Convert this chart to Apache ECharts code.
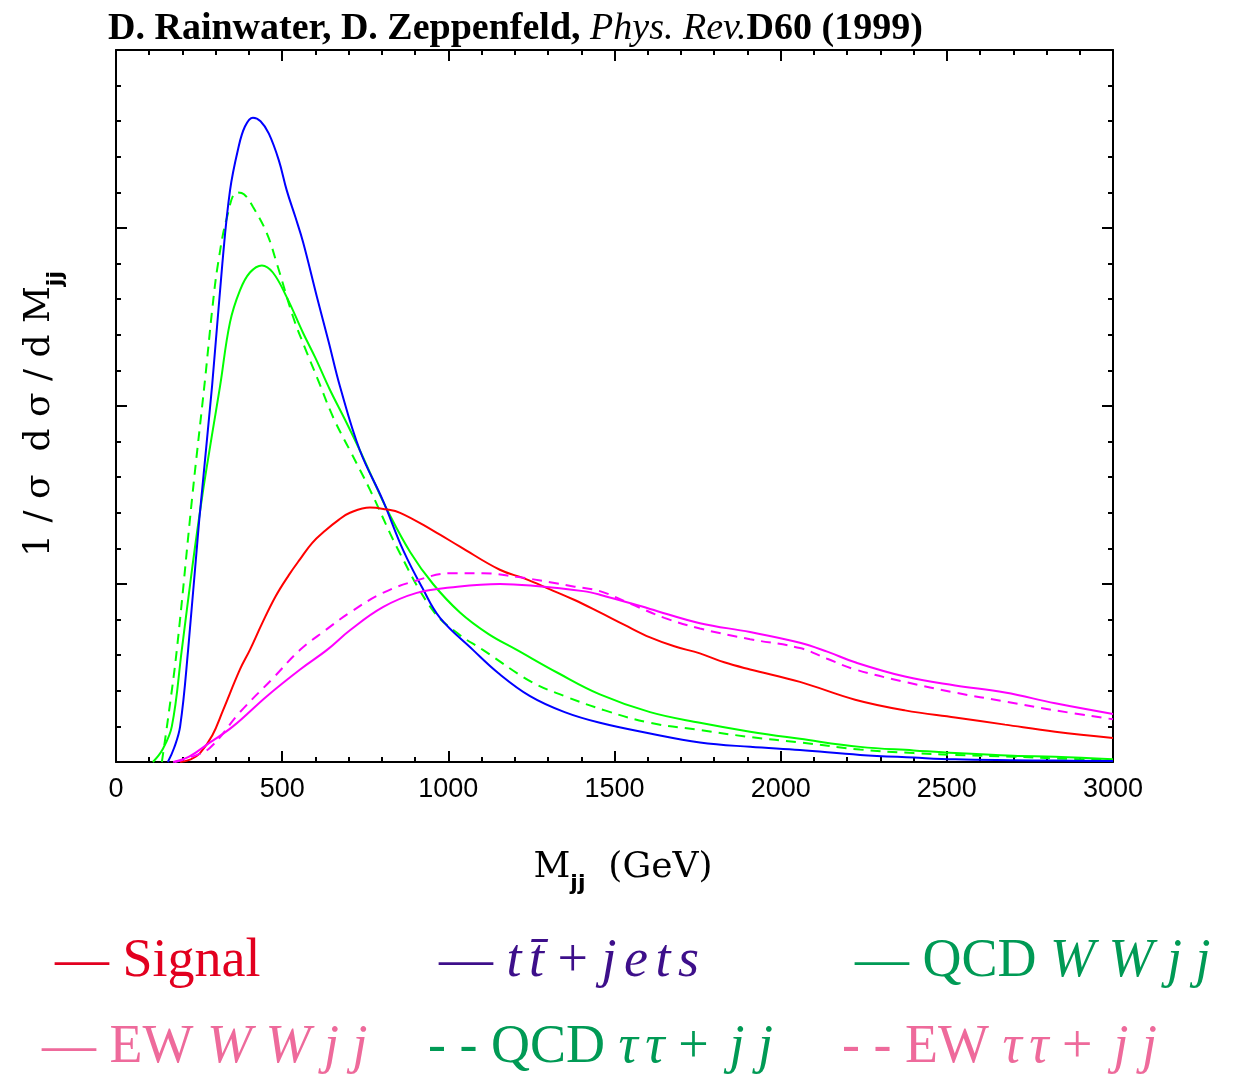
<!DOCTYPE html>
<html>
<head>
<meta charset="utf-8">
<script src="https://cdn.jsdelivr.net/npm/echarts@6/dist/echarts.min.js"></script>
<style>
html,body{margin:0;padding:0;background:#fff;}
#chart{width:1234px;height:1075px;}
</style>
</head>
<body>
<div id="chart"></div>
<script>
// ---- data (M_jj in GeV, normalized distribution, arbitrary units) ----
var xTicks = [0, 500, 1000, 1500, 2000, 2500, 3000];

var signalM = [193, 225, 253, 290, 322, 373, 403, 440, 480, 520, 554, 590, 630, 670, 704, 764, 810, 855, 954, 1035, 1155, 1230, 1306, 1380, 1456, 1530, 1607, 1680, 1757, 1830, 1908, 2058, 2224, 2374, 2525, 2675, 2826, 3000];
var signalY = [0, 0.015, 0.05, 0.15, 0.29, 0.52, 0.63, 0.78, 0.93, 1.05, 1.14, 1.23, 1.30, 1.36, 1.40, 1.43, 1.42, 1.40, 1.30, 1.21, 1.08, 1.03, 0.97, 0.91, 0.84, 0.77, 0.70, 0.65, 0.61, 0.56, 0.52, 0.45, 0.35, 0.29, 0.25, 0.21, 0.17, 0.135];

var ttM = [156, 175, 193, 217, 250, 289, 320, 343, 367, 388, 412, 435, 460, 490, 514, 540, 563, 605, 640, 674, 734, 803, 864, 924, 975, 1074, 1150, 1246, 1350, 1456, 1607, 1757, 1908, 2058, 2239, 2400, 2525, 2700, 2826, 3000];
var ttY = [0, 0.08, 0.2, 0.63, 1.35, 2.11, 2.8, 3.21, 3.44, 3.57, 3.62, 3.60, 3.53, 3.38, 3.21, 3.06, 2.92, 2.61, 2.36, 2.11, 1.75, 1.47, 1.19, 0.97, 0.81, 0.63, 0.50, 0.37, 0.28, 0.22, 0.16, 0.11, 0.085, 0.067, 0.04, 0.025, 0.015, 0.01, 0.008, 0.005];

var qcdWWM = [111, 140, 168, 198, 230, 260, 290, 313, 343, 373, 403, 439, 472, 514, 563, 600, 644, 690, 734, 775, 815, 885, 954, 1035, 1120, 1206, 1330, 1456, 1607, 1757, 1908, 2058, 2239, 2400, 2525, 2700, 2826, 3000];
var qcdWWY = [0, 0.07, 0.2, 0.63, 1.1, 1.5, 1.85, 2.11, 2.47, 2.65, 2.75, 2.79, 2.75, 2.61, 2.41, 2.27, 2.09, 1.92, 1.75, 1.58, 1.42, 1.18, 1.0, 0.84, 0.72, 0.63, 0.50, 0.38, 0.28, 0.22, 0.17, 0.13, 0.085, 0.065, 0.05, 0.035, 0.03, 0.015];

var ewWWM = [172, 220, 283, 352, 454, 554, 635, 704, 803, 905, 1005, 1155, 1255, 1406, 1456, 1607, 1757, 1908, 2058, 2140, 2224, 2374, 2525, 2675, 2826, 3000];
var ewWWY = [0, 0.03, 0.11, 0.20, 0.37, 0.52, 0.63, 0.74, 0.87, 0.95, 0.98, 1.0, 0.99, 0.96, 0.94, 0.86, 0.78, 0.73, 0.67, 0.62, 0.56, 0.48, 0.43, 0.39, 0.33, 0.27];

var qcdTTM = [138, 157, 183, 230, 268, 290, 307, 334, 364, 385, 412, 454, 484, 533, 570, 605, 655, 704, 764, 855, 954, 1030, 1104, 1250, 1350, 1471, 1607, 1757, 1908, 2058, 2239, 2400, 2525, 2700, 2826, 3000];
var qcdTTY = [0, 0.25, 0.63, 1.5, 2.15, 2.55, 2.80, 3.06, 3.2, 3.19, 3.12, 2.97, 2.8, 2.5, 2.32, 2.16, 1.93, 1.75, 1.53, 1.17, 0.85, 0.72, 0.63, 0.45, 0.37, 0.29, 0.22, 0.18, 0.14, 0.11, 0.07, 0.05, 0.04, 0.03, 0.02, 0.01];

var ewTTM = [177, 230, 283, 373, 472, 554, 630, 704, 803, 905, 1005, 1104, 1206, 1306, 1380, 1456, 1547, 1650, 1757, 1908, 2058, 2140, 2224, 2374, 2525, 2675, 2826, 3000];
var ewTTY = [0, 0.03, 0.08, 0.28, 0.47, 0.63, 0.74, 0.84, 0.95, 1.02, 1.06, 1.06, 1.04, 1.01, 0.985, 0.96, 0.89, 0.81, 0.75, 0.69, 0.64, 0.58, 0.52, 0.45, 0.39, 0.34, 0.29, 0.24];

function pairs(xs, ys) { return xs.map(function (x, i) { return [x, ys[i]]; }); }

var chart = echarts.init(document.getElementById('chart'), null, {renderer: 'canvas'});

var serif = '"Liberation Serif", "Times New Roman", serif';
var labSerif = '"DejaVu Serif", serif';

function axisCommon() {
  return {
    axisLine: {show: true, onZero: false, lineStyle: {color: '#000', width: 2}},
    axisTick: {show: true, inside: true, length: 11, lineStyle: {color: '#000', width: 2}},
    minorTick: {show: true, splitNumber: 5, length: 5, lineStyle: {color: '#000', width: 2}},
    splitLine: {show: false},
    minorSplitLine: {show: false}
  };
}

function lineSeries(name, data, color, dashed) {
  return {
    name: name, type: 'line', data: data, showSymbol: false, symbol: 'none',
    smooth: 0.4,
    lineStyle: {color: color, width: 2, type: dashed ? [10, 7] : 'solid'},
    z: 3
  };
}

function legendRich(color) {
  return {
    u: {fontFamily: serif, fontSize: 54, fill: color},
    i: {fontFamily: serif, fontStyle: 'italic', fontSize: 54, fill: color},
    g: {fontFamily: serif, fontSize: 30, fill: color}
  };
}

var option = {
  animation: false,
  backgroundColor: '#fff',
  grid: {left: 116, right: 121, top: 50, bottom: 313, show: false},
  xAxis: [
    Object.assign({
      type: 'value', min: 0, max: 3000, interval: 500, position: 'bottom',
      axisLabel: {show: true, margin: 14, color: '#000', fontSize: 27,
        fontFamily: '"Liberation Sans", Arial, sans-serif',
        formatter: function (v) { return xTicks.indexOf(v) >= 0 ? String(v) : ''; }}
    }, axisCommon()),
    Object.assign({
      type: 'value', min: 0, max: 3000, interval: 500, position: 'top',
      axisLabel: {show: false}
    }, axisCommon())
  ],
  yAxis: [
    Object.assign({
      type: 'value', min: 0, max: 4, interval: 1, position: 'left',
      axisLabel: {show: false}
    }, axisCommon()),
    Object.assign({
      type: 'value', min: 0, max: 4, interval: 1, position: 'right',
      axisLabel: {show: false}
    }, axisCommon())
  ],
  series: [
    lineSeries('QCD WWjj', pairs(qcdWWM, qcdWWY), '#00ff00', false),
    lineSeries('QCD tautau', pairs(qcdTTM, qcdTTY), '#00ff00', true),
    lineSeries('ttbar', pairs(ttM, ttY), '#0000ff', false),
    lineSeries('Signal', pairs(signalM, signalY), '#ff0000', false),
    lineSeries('EW tautau', pairs(ewTTM, ewTTY), '#ff00ff', true),
    lineSeries('EW WWjj', pairs(ewWWM, ewWWY), '#ff00ff', false)
  ],
  graphic: [
    {type: 'text', x: 108, y: 29, style: {
      text: '{b|D. Rainwater, D. Zeppenfeld, }{i|Phys. Rev.}{b|D60 (1999)}',
      verticalAlign: 'middle',
      rich: {
        b: {fontFamily: serif, fontWeight: 'bold', fontSize: 38, fill: '#000'},
        i: {fontFamily: serif, fontStyle: 'italic', fontSize: 38, fill: '#000'}
      }}},
    // y axis title
    {type: 'text', x: 40, y: 414, rotation: Math.PI / 2, style: {
      text: '{m|1 / σ  d σ / d M}{s|jj}',
      align: 'center', verticalAlign: 'middle',
      rich: {
        m: {fontFamily: labSerif, fontSize: 36, fill: '#000', lineHeight: 54, verticalAlign: 'middle'},
        s: {fontFamily: '"DejaVu Sans", sans-serif', fontWeight: 'bold', fontSize: 22, fill: '#000', lineHeight: 54, verticalAlign: 'bottom'}
      }}},
    // x axis title
    {type: 'text', x: 623, y: 868, style: {
      text: '{m|M}{s|jj}{m|  (GeV)}',
      align: 'center', verticalAlign: 'middle',
      rich: {
        m: {fontFamily: labSerif, fontSize: 36, fill: '#000', lineHeight: 54, verticalAlign: 'middle'},
        s: {fontFamily: '"DejaVu Sans", sans-serif', fontWeight: 'bold', fontSize: 22, fill: '#000', lineHeight: 54, verticalAlign: 'bottom'}
      }}},
    // legend row 1
    {type: 'text', x: 55, y: 962, style: {
      text: '{u|— Signal}', verticalAlign: 'middle',
      rich: legendRich('#e2001f')}},
    {type: 'text', x: 439, y: 962, style: {
      text: '{u|— }{i|t}{g| }{i|t̄}{u| + }{i|j}{g| }{i|e}{g| }{i|t}{g| }{i|s}', verticalAlign: 'middle',
      rich: legendRich('#3d0f8a')}},
    {type: 'text', x: 855, y: 962, style: {
      text: '{u|— QCD }{i|W W j j}', verticalAlign: 'middle',
      rich: legendRich('#009a55')}},
    // legend row 2
    {type: 'text', x: 42, y: 1048, style: {
      text: '{u|— EW }{i|W W j j}', verticalAlign: 'middle',
      rich: legendRich('#ee6a9b')}},
    {type: 'text', x: 428, y: 1048, style: {
      text: '{u|- - QCD }{i|τ}{g| }{i|τ}{u| + }{g| }{i|j}{u| }{i|j}', verticalAlign: 'middle',
      rich: legendRich('#009a55')}},
    {type: 'text', x: 842, y: 1048, style: {
      text: '{u|- - EW }{i|τ}{g| }{i|τ}{u| + }{g| }{i|j}{u| }{i|j}', verticalAlign: 'middle',
      rich: legendRich('#ee6a9b')}}
  ]
};
chart.setOption(option);
</script>
</body>
</html>
